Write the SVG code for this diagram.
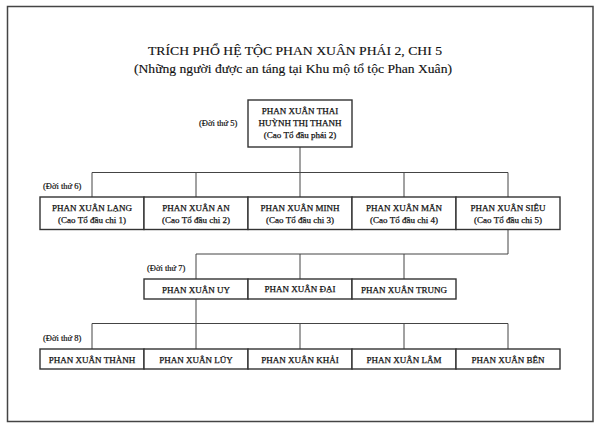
<svg xmlns="http://www.w3.org/2000/svg" width="600" height="428" viewBox="0 0 600 428">
<style>
.bg{fill:#fff}
.frame{fill:none;stroke:#444;stroke-width:1.5}
.box{fill:#fff;stroke:#333;stroke-width:1.4}
.ln{fill:none;stroke:#444;stroke-width:1}
text{font-family:"Liberation Serif","Times New Roman",serif;fill:#111}
.t{font-size:13.5px;text-anchor:middle;stroke:#111;stroke-width:0.15}
.n{font-size:9px;text-anchor:middle;stroke:#111;stroke-width:0.25}
.g{font-size:8.5px;stroke:#111;stroke-width:0.2}
</style>
<rect class="bg" x="0" y="0" width="600" height="428"/>
<rect class="frame" x="7.5" y="6.5" width="585.5" height="415"/>
<g id="title">
<text class="t" x="295" y="55" textLength="294" lengthAdjust="spacingAndGlyphs">TRÍCH PHỔ HỆ TỘC PHAN XUÂN PHÁI 2, CHI 5</text>
<text class="t" x="293" y="73" textLength="318" lengthAdjust="spacingAndGlyphs">(Những người được an táng tại Khu mộ tổ tộc Phan Xuân)</text>
</g>
<g id="connectors">
<path class="ln" d="M300 147V172.5M92 172.5H508M92 172.5V197M196 172.5V197M300 172.5V197M404 172.5V197M508 172.5V197"/>
<path class="ln" d="M508 229.5V254M196 254H508M196 254V279M300 254V279M404 254V279"/>
<path class="ln" d="M196 299V323.5M92 323.5H508M92 323.5V349M196 323.5V349M300 323.5V349M404 323.5V349M508 323.5V349"/>
</g>
<g id="gen-labels">
<text class="g" x="199" y="126">(Đời thứ 5)</text>
<text class="g" x="43" y="189">(Đời thứ 6)</text>
<text class="g" x="147" y="271">(Đời thứ 7)</text>
<text class="g" x="43" y="341">(Đời thứ 8)</text>
</g>
<g id="n-thai">
<rect class="box" x="248" y="100" width="104" height="47"/>
<text class="n" x="300" y="114">PHAN XUÂN THAI</text>
<text class="n" x="300" y="126">HUỲNH THỊ THANH</text>
<text class="n" x="300" y="138">(Cao Tổ đầu phái 2)</text>
</g>
<g id="n-lang">
<rect class="box" x="40" y="197" width="104" height="32.5"/>
<text class="n" x="92" y="211">PHAN XUÂN LẠNG</text>
<text class="n" x="92" y="223">(Cao Tổ đầu chi 1)</text>
</g>
<g id="n-an">
<rect class="box" x="144" y="197" width="104" height="32.5"/>
<text class="n" x="196" y="211">PHAN XUÂN AN</text>
<text class="n" x="196" y="223">(Cao Tổ đầu chi 2)</text>
</g>
<g id="n-minh">
<rect class="box" x="248" y="197" width="104" height="32.5"/>
<text class="n" x="300" y="211">PHAN XUÂN MINH</text>
<text class="n" x="300" y="223">(Cao Tổ đầu chi 3)</text>
</g>
<g id="n-man">
<rect class="box" x="352" y="197" width="104" height="32.5"/>
<text class="n" x="404" y="211">PHAN XUÂN MÃN</text>
<text class="n" x="404" y="223">(Cao Tổ đầu chi 4)</text>
</g>
<g id="n-sieu">
<rect class="box" x="456" y="197" width="104" height="32.5"/>
<text class="n" x="508" y="211">PHAN XUÂN SIÊU</text>
<text class="n" x="508" y="223">(Cao Tổ đầu chi 5)</text>
</g>
<g id="n-uy">
<rect class="box" x="144" y="279" width="104" height="20"/>
<text class="n" x="196" y="292.5">PHAN XUÂN UY</text>
</g>
<g id="n-dai">
<rect class="box" x="248" y="279" width="104" height="20"/>
<text class="n" x="300" y="292">PHAN XUÂN ĐẠI</text>
</g>
<g id="n-trung">
<rect class="box" x="352" y="279" width="104" height="20"/>
<text class="n" x="404" y="292.5">PHAN XUÂN TRUNG</text>
</g>
<g id="n-thanh">
<rect class="box" x="40" y="349" width="104" height="20"/>
<text class="n" x="92" y="362.5">PHAN XUÂN THÀNH</text>
</g>
<g id="n-luy">
<rect class="box" x="144" y="349" width="104" height="20"/>
<text class="n" x="196" y="362.5">PHAN XUÂN LŨY</text>
</g>
<g id="n-khai">
<rect class="box" x="248" y="349" width="104" height="20"/>
<text class="n" x="300" y="362.5">PHAN XUÂN KHẢI</text>
</g>
<g id="n-lam">
<rect class="box" x="352" y="349" width="104" height="20"/>
<text class="n" x="404" y="362.5">PHAN XUÂN LÂM</text>
</g>
<g id="n-ben">
<rect class="box" x="456" y="349" width="104" height="20"/>
<text class="n" x="508" y="362.5">PHAN XUÂN BÊN</text>
</g>
</svg>
